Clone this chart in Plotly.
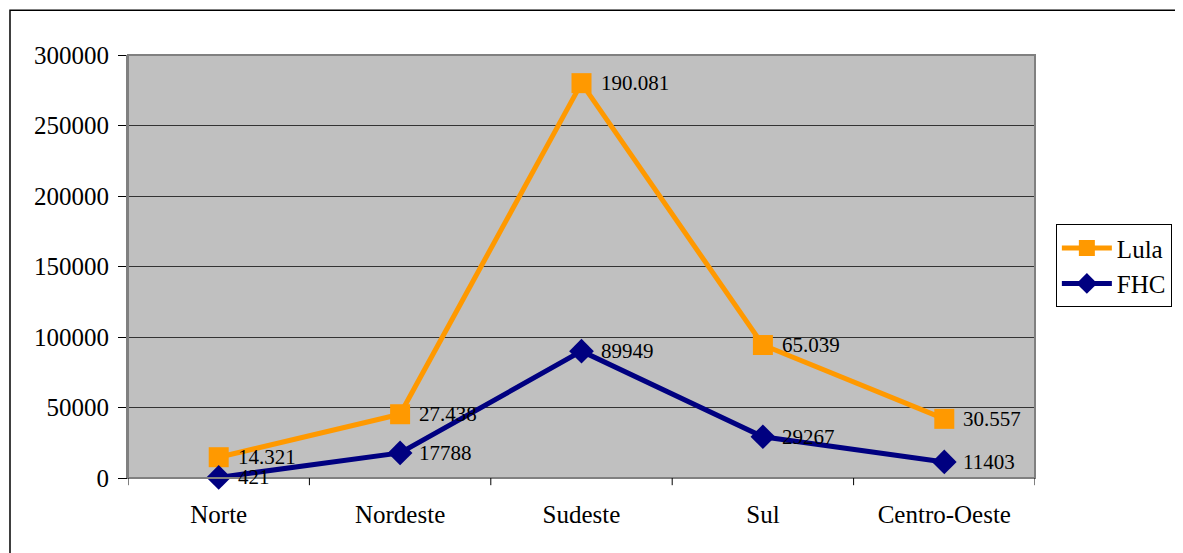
import numpy as np
import plotly.graph_objects as go

regions = ["Norte", "Nordeste", "Sudeste", "Sul", "Centro-Oeste"]
fhc = [421, 17788, 89949, 29267, 11403]
lula = [14321, 27438, 190081, 65039, 30557]
lula_labels = ["14.321", "27.438", "190.081", "65.039", "30.557"]
fhc_labels = ["421", "17788", "89949", "29267", "11403"]
y_ticks = [0, 50000, 100000, 150000, 200000, 250000, 300000]

# stacked line chart: Lula drawn on top of FHC
lula_stacked = (np.array(fhc) + np.array(lula)).tolist()

FONT = "Liberation Serif"

fig = go.Figure()
fig.add_trace(go.Scatter(
    x=regions, y=lula_stacked, name="Lula", mode="lines+markers",
    line=dict(color="#FF9900", width=5),
    marker=dict(symbol="square", size=20, color="#FF9900"),
    cliponaxis=False,
))
fig.add_trace(go.Scatter(
    x=regions, y=fhc, name="FHC", mode="lines+markers",
    line=dict(color="#000080", width=5),
    marker=dict(symbol="diamond", size=19, color="#000080"),
    cliponaxis=False,
))

for xs, ys, labels in [(regions, lula_stacked, lula_labels), (regions, fhc, fhc_labels)]:
    for xv, yv, t in zip(xs, ys, labels):
        fig.add_annotation(x=xv, y=yv, text=t, showarrow=False,
                           xanchor="left", yanchor="middle", xshift=17,
                           font=dict(family=FONT, size=21, color="black"))

fig.update_layout(
    width=1183, height=553,
    margin=dict(l=120, r=156, t=47, b=83),
    paper_bgcolor="white", plot_bgcolor="#C0C0C0",
    font=dict(family=FONT, size=25, color="black"),
    showlegend=True,
    legend=dict(
        x=1.023, y=0.6, xanchor="left", yanchor="top",
        bordercolor="black", borderwidth=1, bgcolor="white",
        font=dict(family=FONT, size=25), itemwidth=50,
    ),
    xaxis=dict(
        type="category", range=[-0.5, 4.5],
        showgrid=False, showline=True, linecolor="black", linewidth=1,
        ticks="", tickfont=dict(family=FONT, size=25), ticklabelstandoff=14,
        mirror=False, zeroline=False,
    ),
    yaxis=dict(
        range=[0, 300000], tickvals=y_ticks, ticktext=[str(v) for v in y_ticks],
        showgrid=True, gridcolor="#333333", gridwidth=1,
        showline=True, linecolor="#808080", linewidth=2,
        ticks="outside", ticklen=8, tickcolor="black", ticklabelstandoff=4,
        tickfont=dict(family=FONT, size=25), zeroline=False,
    ),
)

# plot-area border
fig.add_shape(type="rect", xref="paper", yref="paper", x0=0, x1=1, y0=0, y1=1,
              line=dict(color="#808080", width=2), layer="above")
# x-axis category separator ticks
for b in [-0.5, 0.5, 1.5, 2.5, 3.5, 4.5]:
    fig.add_shape(type="line", xref="x", yref="paper", x0=b, x1=b, y0=0, y1=-0.017,
                  line=dict(color="black", width=1))
# outer chart frame
fig.add_shape(type="rect", xref="paper", yref="paper",
              x0=-0.1301, x1=1.2, y0=-0.3, y1=1.106,
              line=dict(color="black", width=1.5), layer="below")

fig.write_html("out.html")
